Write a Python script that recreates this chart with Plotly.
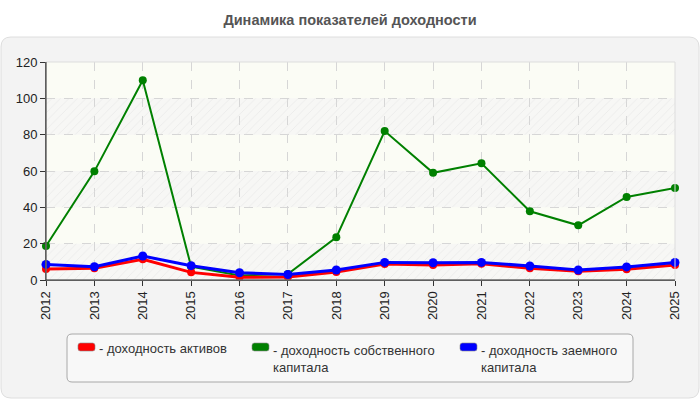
import plotly.graph_objects as go

years = list(range(2012, 2026))
series_names = ["доходность активов", "доходность собственного капитала", "доходность заемного капитала"]
legend_labels = ["- доходность активов", "- доходность собственного<br>капитала", "- доходность заемного<br>капитала"]
roa = [6.0, 6.4, 11.4, 4.2, 1.5, 1.6, 4.4, 8.8, 8.3, 9.0, 6.4, 4.8, 5.9, 8.2]
roe = [18.7, 59.8, 110.0, 7.3, 2.5, 3.3, 23.5, 82.0, 59.0, 64.2, 37.8, 30.1, 45.7, 50.6]
rod = [8.6, 7.3, 13.2, 7.9, 4.0, 3.0, 5.5, 9.7, 9.5, 9.7, 7.7, 5.5, 7.2, 9.7]
y_ticks = [0, 20, 40, 60, 80, 100, 120]
colors = ["#ff0000", "#008000", "#0000ff"]

FONT = "Liberation Sans, Arial, sans-serif"

fig = go.Figure()

# hatched alternating bands (0-20, 40-60, 80-100)
hx, hy = [], []
for lo in y_ticks[0:-1:2]:
    hi = lo + 20
    hx += [years[0], years[-1], years[-1], years[0], years[0], None]
    hy += [lo, lo, hi, hi, lo, None]
fig.add_trace(go.Scatter(
    x=hx, y=hy, mode="lines", fill="toself", line=dict(width=0),
    fillcolor="rgba(0,0,0,0)",
    fillpattern=dict(shape="/", fgcolor="#e0e0e0", bgcolor="rgba(0,0,0,0)", size=6, solidity=0.15),
    hoverinfo="skip", showlegend=False))

data = [(roe, 1, 2, 8), (roa, 0, 3, 8), (rod, 2, 3, 9)]
for vals, idx, lw, ms in data:
    fig.add_trace(go.Scatter(
        x=years, y=vals, mode="lines+markers", name=series_names[idx],
        line=dict(color=colors[idx], width=lw),
        marker=dict(color=colors[idx], size=ms),
        cliponaxis=False, showlegend=False))

fig.update_layout(
    width=700, height=400,
    margin=dict(l=46, r=25, t=62, b=120),
    paper_bgcolor="#ffffff",
    plot_bgcolor="#fbfcf5",
    font=dict(family=FONT, size=13, color="#333333"),
    title=dict(text="<b>Динамика показателей доходности</b>", x=0.5, xanchor="center",
               y=1 - 20 / 400, yanchor="middle", yref="container",
               font=dict(family=FONT, size=14.5, color="#555555")),
    xaxis=dict(range=[years[0], years[-1]], tickmode="array", tickvals=years,
               ticktext=[str(y) for y in years], tickangle=-90,
               showgrid=True, gridcolor="#d6d6d6", griddash="dash", gridwidth=1,
               showline=True, linecolor="#333333", linewidth=1,
               ticks="outside", ticklen=5, tickcolor="#333333",
               zeroline=False, tickfont=dict(size=13, color="#222222")),
    yaxis=dict(range=[0, 120], tickmode="array", tickvals=y_ticks,
               showgrid=True, gridcolor="#d6d6d6", griddash="dash", gridwidth=1,
               showline=True, linecolor="#333333", linewidth=1,
               ticks="outside", ticklen=5, tickcolor="#333333",
               zeroline=False, tickfont=dict(size=13, color="#222222")),
)

# pixel -> paper helpers
PL, PR, PT, PB = 46, 675, 62, 280
def px(x):
    return (x - PL) / (PR - PL)
def py(y):
    return (PB - y) / (PB - PT)

def rrect(x0, y0, x1, y1, r):
    pts = [
        f"M {px(x0 + r)},{py(y0)}",
        f"L {px(x1 - r)},{py(y0)}",
        f"Q {px(x1)},{py(y0)} {px(x1)},{py(y0 + r)}",
        f"L {px(x1)},{py(y1 - r)}",
        f"Q {px(x1)},{py(y1)} {px(x1 - r)},{py(y1)}",
        f"L {px(x0 + r)},{py(y1)}",
        f"Q {px(x0)},{py(y1)} {px(x0)},{py(y1 - r)}",
        f"L {px(x0)},{py(y0 + r)}",
        f"Q {px(x0)},{py(y0)} {px(x0 + r)},{py(y0)} Z",
    ]
    return " ".join(pts)

shapes = [
    dict(type="path", xref="paper", yref="paper", layer="below",
         path=rrect(1, 37, 699, 398, 10), fillcolor="#f3f3f3",
         line=dict(color="#dedede", width=1)),
    dict(type="rect", xref="paper", yref="paper", layer="below",
         x0=0, x1=1, y0=0, y1=1, fillcolor="#fbfcf5", line=dict(width=0)),
]
for lo in y_ticks[0:-1:2]:
    shapes.append(dict(type="rect", xref="x", yref="y", layer="below",
                       x0=years[0], x1=years[-1], y0=lo, y1=lo + 20,
                       fillcolor="#f7f7f5", line=dict(width=0)))
shapes += [
    dict(type="rect", xref="paper", yref="paper", layer="above",
         x0=0, x1=1, y0=0, y1=1, line=dict(color="#dddddd", width=1)),
    dict(type="line", xref="paper", yref="paper", layer="above",
         x0=0, x1=0, y0=0, y1=1, line=dict(color="#333333", width=1)),
    dict(type="line", xref="paper", yref="paper", layer="above",
         x0=0, x1=1, y0=0, y1=0, line=dict(color="#333333", width=1)),
    dict(type="path", xref="paper", yref="paper", layer="above",
         path=rrect(67, 334, 633, 382, 5), fillcolor="#f8f8f8",
         line=dict(color="#a8a8a8", width=1)),
]
annotations = []
sw_x = [78, 252, 460]
for i in range(3):
    x0 = sw_x[i]
    shapes.append(dict(type="path", xref="paper", yref="paper", layer="above",
                       path=rrect(x0, 343, x0 + 17, 351, 2.5), fillcolor=colors[i],
                       line=dict(color="#888888", width=0.6)))
    annotations.append(dict(xref="paper", yref="paper", x=px(x0 + 19), y=py(339 + (2 if i > 0 else 0)),
                            xanchor="left", yanchor="top", align="left",
                            text=legend_labels[i], showarrow=False,
                            font=dict(family=FONT, size=13, color="#333333")))

fig.update_layout(shapes=shapes, annotations=annotations)
fig.write_html("out.html")
